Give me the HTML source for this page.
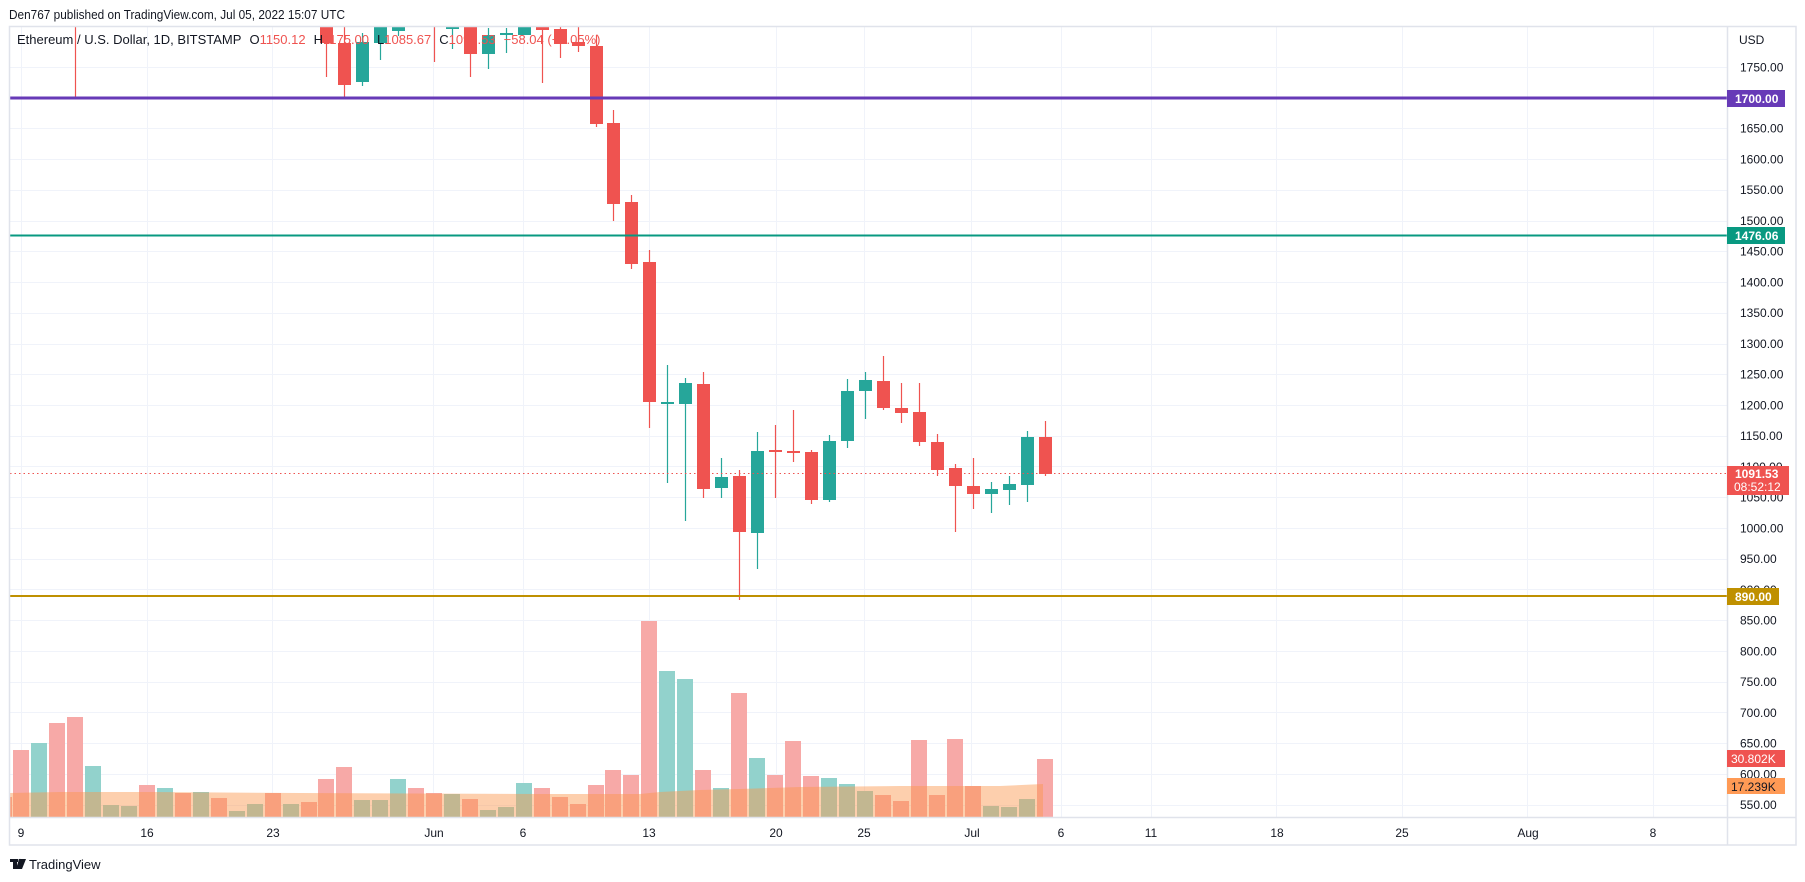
<!DOCTYPE html>
<html><head><meta charset="utf-8"><style>
html,body{margin:0;padding:0;background:#fff;}
svg{display:block;font-family:"Liberation Sans",Arial,sans-serif;}
</style></head><body>
<svg width="1805" height="882" viewBox="0 0 1805 882" xmlns="http://www.w3.org/2000/svg">
<rect width="1805" height="882" fill="#fff"/>
<text x="9" y="19" font-size="13" fill="#131722" textLength="336" lengthAdjust="spacingAndGlyphs">Den767 published on TradingView.com, Jul 05, 2022 15:07 UTC</text>
<defs><clipPath id="c"><rect x="10" y="27" width="1717" height="790"/></clipPath></defs>
<g stroke="#f0f3fa" stroke-width="1">
<path d="M10 67.5H1727M10 128.5H1727M10 159.5H1727M10 190.5H1727M10 221.5H1727M10 251.5H1727M10 282.5H1727M10 313.5H1727M10 344.5H1727M10 374.5H1727M10 405.5H1727M10 436.5H1727M10 466.5H1727M10 497.5H1727M10 528.5H1727M10 559.5H1727M10 589.5H1727M10 620.5H1727M10 651.5H1727M10 682.5H1727M10 712.5H1727M10 743.5H1727M10 774.5H1727M10 805.5H1727"/>
<path d="M21.5 27V817M147.5 27V817M272.5 27V817M433.5 27V817M523.5 27V817M649.5 27V817M776.5 27V817M864.5 27V817M971.5 27V817M1061.5 27V817M1151.5 27V817M1276.5 27V817M1402.5 27V817M1527.5 27V817M1653.5 27V817"/>
</g>
<g clip-path="url(#c)">
<g fill="#f7a9a7">
<rect x="9" y="797" width="3" height="20"/>
<rect x="13" y="750" width="16" height="67"/><rect x="49" y="723" width="16" height="94"/><rect x="67" y="717" width="16" height="100"/><rect x="139" y="785" width="16" height="32"/><rect x="175" y="793" width="16" height="24"/><rect x="211" y="798" width="16" height="19"/><rect x="265" y="793" width="16" height="24"/><rect x="301" y="802" width="16" height="15"/><rect x="318" y="779" width="16" height="38"/><rect x="336" y="767" width="16" height="50"/><rect x="408" y="788" width="16" height="29"/><rect x="426" y="793" width="16" height="24"/><rect x="462" y="799" width="16" height="18"/><rect x="534" y="788" width="16" height="29"/><rect x="552" y="797" width="16" height="20"/><rect x="570" y="804" width="16" height="13"/><rect x="588" y="785" width="16" height="32"/><rect x="605" y="770" width="16" height="47"/><rect x="623" y="775" width="16" height="42"/><rect x="641" y="621" width="16" height="196"/><rect x="695" y="770" width="16" height="47"/><rect x="731" y="693" width="16" height="124"/><rect x="767" y="775" width="16" height="42"/><rect x="785" y="741" width="16" height="76"/><rect x="803" y="776" width="16" height="41"/><rect x="875" y="795" width="16" height="22"/><rect x="893" y="801" width="16" height="16"/><rect x="911" y="740" width="16" height="77"/><rect x="929" y="795" width="16" height="22"/><rect x="947" y="739" width="16" height="78"/><rect x="965" y="786" width="16" height="31"/><rect x="1037" y="759" width="16" height="58"/>
</g>
<g fill="#92d2cc">
<rect x="31" y="743" width="16" height="74"/><rect x="85" y="766" width="16" height="51"/><rect x="103" y="805" width="16" height="12"/><rect x="121" y="806" width="16" height="11"/><rect x="157" y="788" width="16" height="29"/><rect x="193" y="792" width="16" height="25"/><rect x="229" y="811" width="16" height="6"/><rect x="247" y="804" width="16" height="13"/><rect x="283" y="804" width="16" height="13"/><rect x="354" y="800" width="16" height="17"/><rect x="372" y="800" width="16" height="17"/><rect x="390" y="779" width="16" height="38"/><rect x="444" y="794" width="16" height="23"/><rect x="480" y="810" width="16" height="7"/><rect x="498" y="807" width="16" height="10"/><rect x="516" y="783" width="16" height="34"/><rect x="659" y="671" width="16" height="146"/><rect x="677" y="679" width="16" height="138"/><rect x="713" y="788" width="16" height="29"/><rect x="749" y="758" width="16" height="59"/><rect x="821" y="778" width="16" height="39"/><rect x="839" y="784" width="16" height="33"/><rect x="857" y="791" width="16" height="26"/><rect x="983" y="806" width="16" height="11"/><rect x="1001" y="807" width="16" height="10"/><rect x="1019" y="799" width="16" height="18"/>
</g>
<polygon fill="rgba(250,151,77,0.46)" points="9,793 60,792 150,792 300,793 540,794 640,794 660,792 700,790 740,789 800,787 900,786 1000,786 1043,784 1043,817 9,817"/>
<g stroke="#ef5350" stroke-width="1.2" fill="none">
<path d="M75.5 20V98M326.5 20V77M344.5 20V97M434.5 20V62M470.5 20V77M542.5 20V83M560.5 20V58M578.5 20V52M596.5 35V127M613.5 110V221M631.5 195V269M649.5 250V428M703.5 372V498M739.5 470V600M775.5 425V498M793.5 410V462M811.5 450V504M883.5 356V410M901.5 383V423M919.5 383V446M937.5 434V476M955.5 464V532M973.5 458V509M1045.5 421V476"/>
</g>
<g fill="#ef5350">
<rect x="320" y="20" width="13" height="23"/><rect x="338" y="43" width="13" height="42"/><rect x="464" y="20" width="13" height="34"/><rect x="536" y="20" width="13" height="10"/><rect x="554" y="29" width="13" height="15"/><rect x="572" y="42" width="13" height="4"/><rect x="590" y="46" width="13" height="78"/><rect x="607" y="123" width="13" height="81"/><rect x="625" y="202" width="13" height="62"/><rect x="643" y="262" width="13" height="140"/><rect x="697" y="384" width="13" height="105"/><rect x="733" y="476" width="13" height="56"/><rect x="769" y="450" width="13" height="2"/><rect x="787" y="451" width="13" height="2"/><rect x="805" y="452" width="13" height="48"/><rect x="877" y="381" width="13" height="27"/><rect x="895" y="408" width="13" height="5"/><rect x="913" y="412" width="13" height="30"/><rect x="931" y="442" width="13" height="28"/><rect x="949" y="468" width="13" height="18"/><rect x="967" y="486" width="13" height="8"/><rect x="1039" y="437" width="13" height="37"/>
</g>
<g stroke="#26a69a" stroke-width="1.2" fill="none">
<path d="M362.5 33V86M380.5 20V60M398.5 20V36M452.5 20V49M488.5 28V69M506.5 28V53M524.5 20V35M667.5 365V483M685.5 378V521M721.5 458V498M757.5 432V569M829.5 435V502M847.5 379V448M865.5 372V419M991.5 482V513M1009.5 476V505M1027.5 431V502"/>
</g>
<g fill="#26a69a">
<rect x="356" y="42" width="13" height="40"/><rect x="374" y="20" width="13" height="23"/><rect x="392" y="20" width="13" height="11"/><rect x="446" y="20" width="13" height="9"/><rect x="482" y="35" width="13" height="19"/><rect x="500" y="33" width="13" height="2"/><rect x="518" y="20" width="13" height="15"/><rect x="661" y="402" width="13" height="2"/><rect x="679" y="383" width="13" height="21"/><rect x="715" y="477" width="13" height="11"/><rect x="751" y="451" width="13" height="82"/><rect x="823" y="441" width="13" height="59"/><rect x="841" y="391" width="13" height="50"/><rect x="859" y="380" width="13" height="11"/><rect x="985" y="489" width="13" height="5"/><rect x="1003" y="484" width="13" height="6"/><rect x="1021" y="437" width="13" height="48"/>
</g>
</g>
<rect x="10" y="96.5" width="1717" height="3" fill="#673ab7"/>
<rect x="10" y="234.5" width="1717" height="2" fill="#089981"/>
<rect x="10" y="595" width="1717" height="2" fill="#bf9000"/>
<line x1="10" y1="473.5" x2="1727" y2="473.5" stroke="#ef5350" stroke-width="1" stroke-dasharray="1.5 3"/>
<text x="17" y="44" font-size="13" fill="#131722">Ethereum / U.S. Dollar, 1D, BITSTAMP<tspan dx="8">O</tspan><tspan fill="#ef5350">1150.12</tspan><tspan dx="8">H</tspan><tspan fill="#ef5350">1175.00</tspan><tspan dx="8">L</tspan><tspan fill="#ef5350">1085.67</tspan><tspan dx="8">C</tspan><tspan fill="#ef5350">1091.53</tspan><tspan dx="8" fill="#ef5350">−58.04 (−5.05%)</tspan></text>
<g stroke="#e0e3eb" stroke-width="1.5" fill="none">
<rect x="9.5" y="26.5" width="1786.5" height="818.5"/>
<path d="M1727.5 26V845M9 817.5H1796"/>
</g>
<g font-size="12" fill="#131722">
<text x="1739" y="44">USD</text>
<text x="1740" y="71.5">1750.00</text><text x="1740" y="132.5">1650.00</text><text x="1740" y="163.5">1600.00</text><text x="1740" y="194">1550.00</text><text x="1740" y="225">1500.00</text><text x="1740" y="255.5">1450.00</text><text x="1740" y="286.5">1400.00</text><text x="1740" y="317">1350.00</text><text x="1740" y="348">1300.00</text><text x="1740" y="378.5">1250.00</text><text x="1740" y="409.5">1200.00</text><text x="1740" y="440">1150.00</text><text x="1740" y="471">1100.00</text><text x="1740" y="501.5">1050.00</text><text x="1740" y="532.5">1000.00</text><text x="1740" y="563">950.00</text><text x="1740" y="594">900.00</text><text x="1740" y="624.5">850.00</text><text x="1740" y="655.5">800.00</text><text x="1740" y="686">750.00</text><text x="1740" y="717">700.00</text><text x="1740" y="747.5">650.00</text><text x="1740" y="778.5">600.00</text><text x="1740" y="809">550.00</text>
</g>
<g font-size="12" font-weight="bold">
<rect x="1727" y="90" width="58" height="17" fill="#673ab7"/><text x="1735" y="103" fill="#fff">1700.00</text>
<rect x="1727" y="227" width="58" height="17" fill="#089981"/><text x="1735" y="240" fill="#fff">1476.06</text>
<rect x="1727" y="466" width="62" height="29" fill="#ef5350"/><text x="1735" y="478" fill="#fff">1091.53</text><text x="1734" y="491" fill="#fff" font-weight="normal">08:52:12</text>
<rect x="1727" y="588" width="52" height="17" fill="#bf9000"/><text x="1735" y="601" fill="#fff">890.00</text>
<rect x="1727" y="750" width="58" height="17" fill="#ef5350"/><text x="1731" y="763" fill="#fff" font-weight="normal">30.802K</text>
<rect x="1727" y="778" width="58" height="16" fill="#ff9a55"/><text x="1731" y="791" fill="#131722" font-weight="normal">17.239K</text>
</g>
<g font-size="12" fill="#131722" text-anchor="middle">
<text x="21" y="837">9</text><text x="147" y="837">16</text><text x="273" y="837">23</text><text x="434" y="837">Jun</text><text x="523" y="837">6</text><text x="649" y="837">13</text><text x="776" y="837">20</text><text x="864" y="837">25</text><text x="972" y="837">Jul</text><text x="1061" y="837">6</text><text x="1151" y="837">11</text><text x="1277" y="837">18</text><text x="1402" y="837">25</text><text x="1528" y="837">Aug</text><text x="1653" y="837">8</text>
</g>
<g fill="#131722">
<rect x="10" y="859" width="8" height="3"/><rect x="13" y="859" width="4" height="10"/>
<polygon points="19,859 23,859 20,869 16,869"/><circle cx="20" cy="860.5" r="1.6"/>
<polygon points="22,859 26,859 22,869 19,869"/>
</g>
<text x="29" y="869" font-size="13" fill="#131722">TradingView</text>
</svg>
</body></html>
